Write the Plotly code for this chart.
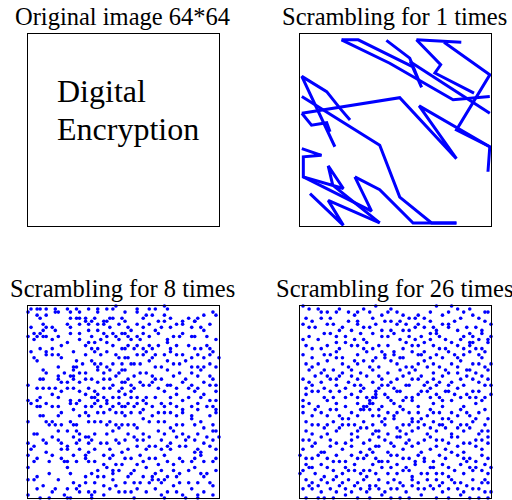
import plotly.graph_objects as go

titles = ["Original image 64*64", "Scrambling for 1 times",
          "Scrambling for 8 times", "Scrambling for 26 times"]
original_text = ["Digital", "Encryption"]

# Scrambling for 1 times: polyline (column, row) on the 64x64 grid, None = break
scr1_x = [14.7, 20.2, 38.1, 41.1, 37.2, 29.5, None,
          14.7, 30.6, 51.5, 63.6, None,
          37.2, 63.6, None,
          39.4, 54.2, None,
          39.4, 47.4, 45.5, 58.4, None,
          48.5, 63.6, 52.6, 63.6, 63.0, None,
          1.6, 33.9, 52.6, 40.3, 63.6, None,
          17.5, 14.2, 9.8, 1.6, 12.5, None,
          1.6, 27.3, 33.9, 44.4, 52.6, None,
          1.6, 4.8, 9.8, 10.9, None,
          1.6, 8.1, 2.1, 2.1, 15.3, 10.3, 11.8, 27.3, None,
          19.1, 27.3, 38.3, 52.6, None,
          2.1, 24.6, 19.1, None,
          4.3, 15.3, 10.3, 27.3]
scr1_y = [2.9, 2.9, 11.7, 18.5, 8.9, 3.1, None,
          2.9, 10.6, 22.6, 21.5, None,
          10.0, 27.0, None,
          2.9, 3.7, None,
          2.9, 11.1, 13.8, 20.4, None,
          3.7, 14.4, 32.5, 38.0, 46.2, None,
          27.0, 21.9, 41.9, 24.6, 38.0, None,
          29.2, 25.4, 19.9, 14.9, 38.0, None,
          21.5, 37.5, 54.5, 63.0, 63.0, None,
          27.0, 30.9, 30.1, 33.1, None,
          38.6, 40.8, 41.3, 47.9, 51.7, 44.3, 50.6, 63.0, None,
          47.9, 52.1, 63.0, 63.0, None,
          47.9, 59.1, 47.9, None,
          53.4, 63.8, 55.6, 63.0]

# Scrambling for 8 times: pixel positions (column, row)
scr8_points = [
    (2,2),(4,2),(5,2),(7,2),(10,2),(11,3),(14,2),(15,3),(17,2),(18,3),(21,2),(24,2),(27,2),(29,2),(30,1),
    (1,3),(4,4),(5,5),(7,4),(10,3),(15,5),(17,5),(18,5),(20,5),(20,6),(23,5),(24,3),(26,6),(28,5),(29,5),(32,5),
    (2,8),(6,7),(7,8),(9,8),(14,7),(15,8),(18,7),(21,7),(22,6),(24,7),(26,7),(27,6),(28,8),(31,7),
    (3,10),(5,10),(6,9),(4,11),(1,11),(7,11),(10,9),(11,11),(15,10),(18,10),(21,9),(22,11),(24,9),(26,10),(27,11),(29,10),(30,11),(32,10),
    (3,12),(6,11),(9,12),(12,14),(14,13),(18,12),(20,14),(21,13),(23,13),(25,12),(27,13),(29,14),(31,12),
    (2,16),(5,15),(7,17),(7,16),(9,15),(9,17),(11,17),(12,18),(16,16),(20,17),(22,15),(23,16),(24,15),(25,17),(27,16),(30,17),(32,15),
    (3,18),(4,19),(17,19),(19,20),(22,19),(23,20),(24,21),(25,20),(27,21),(29,20),(31,18),(32,20),
    (6,22),(7,23),(11,21),(13,23),(15,24),(16,22),(16,21),(17,21),(18,23),(20,23),(24,22),(26,23),(28,22),(31,23),(32,22),
    (5,25),(6,25),(11,25),(11,24),(12,26),(14,26),(16,24),(16,25),(18,26),(20,25),(22,25),(24,26),(26,25),(28,25),(30,24),(32,26),(29,27),
    (1,27),(4,28),(6,28),(8,28),(10,28),(12,29),(14,28),(16,28),(18,29),(21,28),(23,29),(24,30),(26,28),(28,28),(31,29),(32,28),
    (1,32),(4,32),(5,31),(9,30),(11,31),(15,32),(18,32),(20,30),(22,31),(23,31),(24,32),(26,31),(27,32),(29,31),(31,31),
    (33,3),(37,3),(37,2),(40,4),(41,2),(43,2),(46,1),(47,2),(39,5),(42,4),(44,6),(46,4),(48,5),(52,6),(54,5),(56,6),(57,5),(59,4),(62,3),(63,4),
    (33,6),(34,8),(35,9),(37,7),(39,8),(41,7),(43,9),(45,8),(46,6),(48,8),(50,7),(52,7),(55,8),(56,6),(58,8),(59,9),(61,7),(33,10),
    (34,11),(35,12),(37,11),(38,12),(39,10),(41,11),(44,10),(47,12),(49,11),(51,11),(52,10),(55,11),(56,11),(60,11),(63,12),
    (33,15),(34,14),(36,15),(37,14),(39,15),(41,14),(42,15),(44,14),(47,13),(48,15),(50,14),(54,14),(56,15),(58,15),(60,14),(61,15),
    (33,18),(34,18),(37,17),(39,17),(40,16),(42,18),(43,17),(46,17),(48,16),(50,17),(52,17),(55,18),(57,17),(59,18),(61,17),(62,16),(64,18),
    (35,20),(36,20),(38,20),(41,19),(43,21),(45,21),(47,19),(49,20),(51,20),(53,19),(55,21),(57,21),(59,21),(61,20),(63,21),
    (33,22),(34,25),(36,24),(38,23),(40,23),(42,24),(43,25),(45,25),(47,22),(49,24),(51,23),(53,25),(55,23),(57,24),(58,22),(61,24),(62,25),
    (33,26),(35,27),(36,28),(38,26),(39,27),(41,27),(42,26),(44,28),(47,27),(48,27),(50,28),(52,26),(54,28),(55,27),(57,28),(59,26),(61,27),(63,27),
    (33,30),(35,29),(35,31),(37,31),(39,32),(40,31),(43,31),(46,29),(48,31),(50,30),(52,32),(54,31),(56,29),(58,31),(59,30),(61,32),(63,29),(63,32),
    (2,33),(4,34),(5,34),(7,33),(9,34),(11,34),(15,33),(17,33),(20,34),(22,34),(23,33),(25,34),(27,33),(29,34),(31,33),(32,34),
    (5,37),(6,37),(12,36),(11,37),(16,35),(18,37),(20,36),(21,37),(24,36),(26,36),(28,35),(30,36),(32,36),
    (1,39),(7,39),(8,40),(9,39),(10,40),(12,40),(15,39),(16,40),(17,40),(21,39),(23,39),(25,39),(27,40),(28,39),(30,40),(32,40),
    (3,43),(4,43),(9,44),(11,42),(14,42),(17,42),(18,43),(20,44),(21,44),(23,43),(27,43),(29,42),(31,41),(16,44),
    (1,46),(6,45),(7,46),(11,45),(12,46),(14,47),(17,46),(18,45),(21,46),(22,45),(25,46),(27,46),(30,45),(31,46),(3,47),(2,48),
    (7,49),(9,50),(12,48),(14,48),(12,51),(16,50),(18,48),(20,50),(21,49),(23,48),(26,50),(28,48),(29,50),(32,49),(4,51),(1,50),
    (3,52),(8,52),(13,52),(14,52),(17,52),(20,51),(21,52),(23,52),(26,53),(28,51),(30,53),(32,53),(1,54),(14,54),(24,55),(27,54),(29,55),
    (4,57),(8,56),(11,58),(15,56),(20,57),(22,56),(24,57),(26,57),(29,56),(31,55),(3,58),(1,58),
    (16,59),(20,59),(23,59),(29,58),(4,61),(6,60),(9,62),(10,61),(14,61),(17,61),(18,60),(21,62),(23,62),(26,60),(28,61),(30,60),
    (13,63),(15,64),(18,62),(22,63),(26,63),(31,62),(1,63),(5,64),(8,64),(14,64),(22,64),
    (33,34),(34,33),(36,34),(37,33),(40,33),(42,34),(45,33),(46,34),(48,33),(50,34),(52,35),(55,34),(57,33),(60,34),(62,34),(63,35),
    (33,37),(35,36),(38,36),(39,35),(42,37),(44,36),(46,36),(48,36),(50,37),(52,36),(55,37),(57,35),(61,37),(63,36),
    (34,40),(36,40),(37,41),(39,38),(41,39),(44,39),(46,39),(48,41),(49,42),(50,40),(52,40),(55,38),(56,40),(58,39),(59,41),(62,40),(63,42),
    (34,43),(36,44),(39,43),(41,44),(44,42),(46,43),(50,44),(52,43),(54,44),(57,43),(60,44),(62,42),
    (33,45),(37,45),(39,45),(45,45),(48,46),(53,45),(56,45),(59,46),(62,45),(64,44),
    (34,48),(37,47),(40,48),(41,47),(43,47),(45,48),(47,47),(48,48),(51,47),(53,47),(56,49),(57,48),(58,49),(61,47),(63,48),(38,50),(46,50),
    (33,51),(35,51),(37,53),(39,52),(41,51),(43,51),(44,53),(47,52),(49,53),(51,51),(52,52),(55,52),(56,51),(58,50),(59,52),(62,52),(63,51),
    (35,56),(36,55),(40,54),(43,56),(45,55),(47,57),(49,55),(51,56),(54,55),(56,54),(58,56),(60,56),(63,55),
    (34,57),(39,57),(42,57),(44,58),(50,57),(59,57),
    (33,59),(36,59),(38,59),(41,59),(42,58),(45,59),(46,58),(49,60),(51,59),(54,59),(57,59),(61,59),(62,60),
    (33,62),(35,62),(37,61),(40,62),(43,61),(45,63),(47,62),(50,62),(52,63),(55,61),(57,63),(59,62),(62,63),
    (36,64),(46,64),(53,64),(57,64),
]

# Scrambling for 26 times: pixel positions (column, row)
scr26_points = [
    (2,1),(4,2),(7,2),(10,3),(13,3),(14,2),(17,3),(19,4),(20,3),(24,3),(26,1),(28,4),(30,3),(33,3),(35,4),(37,5),(39,5),(40,4),(42,5),(44,3),
    (46,1),(48,4),(50,3),(53,2),(55,3),(58,4),(60,5),(62,3),(63,3),(3,5),(5,6),(8,5),(20,6),(25,5),(31,6),(34,6),(44,6),(50,7),(54,5),
    (2,7),(4,8),(12,7),(15,8),(18,9),(20,7),(24,8),(26,7),(28,9),(31,9),(33,7),(36,7),(37,9),(40,7),(42,8),(45,8),(46,9),(50,8),(53,9),(57,10),
    (59,8),(62,6),(2,12),(9,10),(13,11),(16,11),(19,12),(25,10),(28,11),(32,10),(37,11),(39,12),(41,11),(44,10),(46,10),(49,12),(55,11),(58,11),(60,12),(63,12),
    (3,14),(8,15),(13,13),(14,15),(18,14),(20,14),(22,12),(25,15),(27,14),(30,14),(32,16),(35,15),(38,14),(40,14),(42,16),(44,12),(47,15),(50,16),(53,14),(55,15),
    (57,14),(59,15),(61,15),(63,13),(2,17),(5,18),(9,17),(13,16),(15,18),(20,17),(23,16),(26,18),(28,16),(32,17),(34,18),(38,16),(41,17),(44,18),(46,17),(53,18),(57,16),(60,17),
    (3,20),(7,20),(10,19),(13,18),(17,21),(20,20),(22,19),(25,19),(27,21),(29,18),(33,20),(35,18),(38,21),(40,20),(43,21),(45,20),(48,18),(51,20),(54,19),(58,20),
    (61,18),(63,22),(4,22),(8,23),(12,22),(15,23),(18,22),(21,23),(25,22),(30,23),(34,22),(37,23),(39,22),(45,23),(49,22),(53,23),(56,22),(59,23),(62,21),
    (2,25),(6,24),(8,26),(11,25),(14,24),(17,26),(20,25),(23,24),(25,26),(28,25),(31,26),(33,25),(36,27),(38,25),(40,25),(43,26),(45,25),(48,24),(51,26),(54,25),
    (56,24),(60,26),(63,25),(3,28),(5,27),(9,28),(13,27),(16,28),(19,27),(22,28),(26,29),(28,27),(32,28),(34,29),(37,27),(44,28),(46,27),(49,29),(53,28),(58,29),(62,27),
    (3,30),(5,29),(9,31),(12,31),(14,29),(18,30),(21,29),(23,31),(25,33),(26,31),(29,30),(31,32),(33,29),(36,31),(38,31),(41,29),(44,31),(46,30),(48,32),(50,29),
    (54,31),(57,31),(60,29),(62,31),(4,33),(7,34),(10,32),(13,33),(16,34),(20,33),(22,34),(28,34),(32,33),(34,34),(38,32),(40,34),(45,33),(48,34),(51,32),(55,34),(59,33),(61,32),
    (25,31),(24,32),(24,33),(23,34),(22,35),(26,30),
    (2,36),(5,37),(8,36),(11,35),(14,37),(18,36),(20,37),(24,35),(25,37),(27,37),(30,36),(32,37),(35,35),(38,38),(40,36),(43,37),(45,36),(48,38),(51,36),(54,35),
    (57,37),(60,36),(63,38),(3,39),(7,40),(12,39),(15,38),(19,40),(22,39),(25,40),(28,39),(32,38),(35,40),(38,39),(42,40),(45,39),(48,40),(51,39),(54,40),(58,39),(62,40),
    (3,42),(5,43),(9,41),(13,42),(15,40),(18,43),(20,42),(23,41),(25,43),(27,42),(30,43),(33,41),(36,43),(38,42),(40,41),(43,43),(46,42),(49,41),(51,43),(55,42),
    (57,41),(60,43),(63,42),(4,45),(8,44),(11,45),(16,46),(20,44),(24,45),(27,44),(31,46),(34,44),(37,45),(40,46),(44,44),(48,45),(51,44),(55,46),(59,45),(63,44),
    (2,48),(5,47),(9,49),(11,47),(15,48),(18,47),(21,49),(24,48),(27,47),(30,49),(32,47),(35,48),(38,47),(41,49),(44,48),(46,47),(49,48),(53,47),(55,49),(59,47),
    (61,48),(63,46),(3,51),(7,50),(10,51),(13,50),(16,52),(20,51),(23,50),(26,51),(30,52),(33,50),(37,51),(40,50),(45,52),(49,51),(53,50),(57,51),(61,50),
    (3,53),(4,54),(8,53),(10,54),(14,52),(16,54),(19,53),(22,55),(25,53),(27,52),(31,54),(33,53),(36,54),(39,53),(42,52),(44,54),(48,53),(50,54),(54,53),(56,52),
    (59,54),(62,53),(2,55),(6,56),(9,57),(15,56),(19,55),(23,57),(26,56),(30,56),(35,55),(38,57),(43,56),(46,56),(50,57),(55,56),(58,55),(63,56),
    (3,58),(5,59),(8,58),(12,58),(15,59),(17,58),(20,59),(22,58),(24,60),(27,58),(30,59),(32,58),(34,59),(38,58),(40,59),(43,58),(46,58),(48,59),(51,58),(54,59),
    (58,58),(62,58),(63,59),(2,61),(5,61),(8,62),(11,61),(14,60),(18,62),(21,61),(24,61),(26,60),(29,62),(33,61),(36,62),(38,60),(42,61),(45,61),(48,62),(53,61),
    (56,60),(60,61),(62,62),(3,64),(7,64),(12,64),(20,64),(31,64),(37,64),(46,64),(57,64),(63,64),
    (8,3),(22,2),(31,2),(51,1),(57,2),(11,5),
    (6,8),(10,7),(17,6),(22,8),(29,6),(35,9),(39,8),(48,7),(52,6),(56,8),(61,9),(64,7),(14,9),
    (4,11),(7,12),(11,10),(21,10),(23,13),(30,11),(34,12),(42,13),(47,11),(51,13),(54,12),(57,13),(61,10),(64,11),
    (5,15),(10,14),(16,13),(22,15),(29,17),(36,13),(40,17),(45,14),(49,15),(52,17),(55,17),(58,13),(62,16),(11,17),
    (5,21),(9,22),(15,20),(19,19),(24,21),(31,19),(36,21),(42,19),(47,21),(50,23),(53,21),(57,22),(60,20),(64,20),
    (4,26),(10,24),(13,25),(18,24),(21,27),(27,24),(30,27),(35,24),(41,24),(42,27),(47,26),(50,27),(55,27),(58,25),(61,24),(64,27),
    (2,32),(7,29),(11,29),(16,31),(20,31),(27,28),(30,31),(35,32),(40,30),(43,29),(47,31),(52,30),(56,30),(59,31),(64,30),
    (2,34),(6,35),(10,37),(13,35),(17,38),(21,35),(27,35),(29,38),(33,36),(37,36),(41,38),(44,35),(47,36),(50,38),(53,37),(56,36),(59,38),(62,35),
    (5,40),(10,40),(14,41),(17,40),(21,41),(26,42),(29,40),(34,42),(37,40),(40,39),(44,41),(47,40),(53,41),(56,40),(61,42),
    (2,45),(6,46),(10,43),(13,46),(18,45),(22,46),(26,47),(29,45),(33,44),(36,46),(42,45),(46,45),(50,46),(53,44),(57,46),(61,45),
    (1,50),(5,51),(8,49),(12,52),(18,50),(22,51),(25,49),(28,52),(31,50),(35,51),(39,52),(42,51),(47,50),(51,49),(55,51),(59,52),(63,51),
    (1,56),(5,54),(12,55),(13,57),(17,55),(21,56),(24,55),(28,54),(33,56),(37,55),(41,56),(45,54),(48,56),(52,55),(57,54),(61,55),(64,54),
    (4,60),(7,60),(10,59),(13,62),(16,61),(19,60),(23,62),(27,61),(31,61),(35,60),(40,61),(44,60),(47,60),(50,61),(52,59),(55,62),(58,61),(61,59),(64,62),
    (9,64),(16,63),(24,64),(28,63),(34,64),(41,63),(50,64),(54,63),(60,64),
]

BLUE = "#0000FF"
FONT = "Liberation Serif"
W, H = 512, 500

fig = go.Figure()

# panel 1: empty frame holding the original text
fig.add_trace(go.Scatter(x=[None], y=[None], mode="markers", showlegend=False,
                         hoverinfo="skip", xaxis="x", yaxis="y"))
# panel 2
fig.add_trace(go.Scatter(x=scr1_x, y=scr1_y, mode="lines", showlegend=False,
                         line=dict(color=BLUE, width=3), cliponaxis=False,
                         connectgaps=False, xaxis="x2", yaxis="y2"))
# panel 3
fig.add_trace(go.Scatter(x=[p[0] for p in scr8_points], y=[p[1] for p in scr8_points],
                         mode="markers", showlegend=False, cliponaxis=False,
                         marker=dict(color=BLUE, size=3.6), xaxis="x3", yaxis="y3"))
# panel 4
fig.add_trace(go.Scatter(x=[p[0] for p in scr26_points], y=[p[1] for p in scr26_points],
                         mode="markers", showlegend=False, cliponaxis=False,
                         marker=dict(color=BLUE, size=3.6), xaxis="x4", yaxis="y4"))

xdom = {"L": [28 / W, 219 / W], "R": [300 / W, 491 / W]}
ydom = {"T": [1 - 226 / H, 1 - 34 / H], "B": [1 - 498 / H, 1 - 306 / H]}
cells = [("L", "T"), ("R", "T"), ("L", "B"), ("R", "B")]

ax_common = dict(showline=True, mirror=True, linecolor="black", linewidth=1.2,
                 showgrid=False, zeroline=False, showticklabels=False, ticks="")
layout = {}
for i, (cx, cy) in enumerate(cells, start=1):
    sx = "" if i == 1 else str(i)
    layout["xaxis" + sx] = dict(domain=xdom[cx], range=[1, 64], anchor="y" + sx, **ax_common)
    layout["yaxis" + sx] = dict(domain=ydom[cy], range=[64, 1], anchor="x" + sx, **ax_common)

annotations = []
title_pos = [(122.5, 16.4), (394.5, 16.4), (122.5, 288.4), (394.5, 288.4)]
for t, (px, py) in zip(titles, title_pos):
    annotations.append(dict(text=t, x=px / W, y=1 - py / H, xref="paper", yref="paper",
                            xanchor="center", yanchor="middle", showarrow=False,
                            font=dict(family=FONT, size=24.5, color="black")))
for t, py in zip(original_text, [91.2, 129.2]):
    annotations.append(dict(text=t, x=55 / W, y=1 - py / H, xref="paper", yref="paper",
                            xanchor="left", yanchor="middle", showarrow=False,
                            font=dict(family=FONT, size=32, color="black")))

fig.update_layout(width=W, height=H, margin=dict(l=0, r=0, t=0, b=0),
                  paper_bgcolor="white", plot_bgcolor="white",
                  annotations=annotations, **layout)

fig.write_html("out.html", config={"displayModeBar": False, "staticPlot": True},
               post_script="document.body.style.margin='0';")
